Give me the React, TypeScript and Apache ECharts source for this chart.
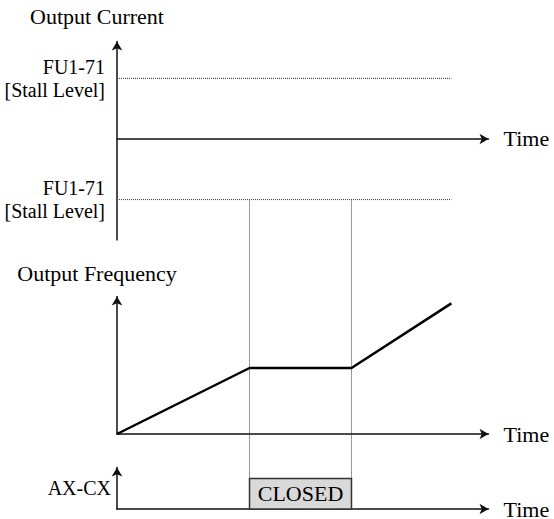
import React, { useEffect, useRef } from 'react';
import * as echarts from 'echarts';

// ---- data ----
const timeMax = 10;
const stallStart = 3.567;
const stallEnd = 6.312;
const guideEnd = 9;
const guideTimes = [stallStart, stallEnd];
const frequencyTimes = [0, 3.567, 6.312, 9];
const frequencyValues = [0, 4.8, 4.8, 9.5];
const frequencyMax = 10;
const currentMin = -10;
const currentMax = 9.65;
const stallLevels = [6, -6];
const stallLabel = 'FU1-71\n[Stall Level]';
const relayMax = 3;
const closedLevel = 2.2;
const closedText = 'CLOSED';
const titles = ['Output Current', 'Output Frequency', 'AX-CX'];
const timeLabel = 'Time';

const FONT = 'Liberation Serif';
const AXIS_COLOR = '#111';

function makeXAxis(gridIndex: number, show: boolean, lift: number) {
  return {
    type: 'value',
    gridIndex,
    min: 0,
    max: timeMax,
    show,
    name: timeLabel,
    nameLocation: 'end',
    nameGap: 15,
    nameTextStyle: {
      fontSize: 22,
      fontFamily: FONT,
      color: '#000',
      lineHeight: 16,
      verticalAlign: 'middle',
      padding: [0, 0, lift, 0],
    },
    axisLine: {
      show: true,
      onZero: true,
      symbol: ['none', 'arrow'],
      symbolSize: [8, 9],
      lineStyle: { color: AXIS_COLOR, width: 1.5 },
    },
    axisTick: { show: false },
    axisLabel: { show: false },
    splitLine: { show: false },
  };
}

export default function App() {
  const ref = useRef<HTMLDivElement>(null);

  useEffect(() => {
    if (!ref.current) return;
    const chart = echarts.init(ref.current, null, { renderer: 'svg' });

    const yBase = {
      type: 'value',
      axisTick: { show: false },
      splitLine: { show: false },
      axisLine: {
        show: true,
        symbol: ['none', 'arrow'],
        symbolSize: [8, 9],
        lineStyle: { color: AXIS_COLOR, width: 1.5 },
      },
    };

    const dotted = { color: '#333', width: 1, type: [1, 1] };

    const option: any = {
      animation: false,
      textStyle: { fontFamily: FONT, color: '#000' },
      grid: [
        { left: 117, top: 41.5, width: 371.5, height: 198.5, outerBoundsMode: 'none' },
        { left: 117, top: 296.5, width: 371.5, height: 137.5, outerBoundsMode: 'none' },
        { left: 117, top: 467.5, width: 371.5, height: 41.5, outerBoundsMode: 'none' },
        { left: 117, top: 199.6, width: 371.5, height: 279, outerBoundsMode: 'none' },
      ],
      xAxis: [
        makeXAxis(0, true, 3),
        makeXAxis(1, true, 3),
        makeXAxis(2, true, 10),
        makeXAxis(3, false, 0),
      ],
      yAxis: [
        {
          ...yBase,
          gridIndex: 0,
          min: currentMin,
          max: currentMax,
          name: titles[0],
          nameLocation: 'end',
          nameGap: 14,
          nameTextStyle: { fontSize: 22, fontFamily: FONT, color: '#000', padding: [0, 40, 0, 0] },
          axisLabel: {
            show: true,
            customValues: stallLevels,
            formatter: () => stallLabel,
            fontSize: 20,
            lineHeight: 23,
            fontFamily: FONT,
            color: '#000',
            align: 'right',
            margin: 12,
            padding: [6, 0, 0, 0],
          },
        },
        {
          ...yBase,
          gridIndex: 1,
          min: 0,
          max: frequencyMax,
          name: titles[1],
          nameLocation: 'end',
          nameGap: 12,
          nameTextStyle: { fontSize: 22, fontFamily: FONT, color: '#000', padding: [0, 40, 0, 0] },
          axisLabel: { show: false },
        },
        {
          ...yBase,
          gridIndex: 2,
          min: 0,
          max: relayMax,
          name: titles[2],
          nameLocation: 'middle',
          nameRotate: 0,
          nameGap: 6,
          nameTextStyle: {
            fontSize: 20,
            fontFamily: FONT,
            color: '#000',
            align: 'right',
            verticalAlign: 'middle',
            padding: [4, 0, 0, 0],
          },
          axisLabel: { show: false },
        },
        { type: 'value', gridIndex: 3, min: 0, max: 1, show: false },
      ],
      series: [
        ...stallLevels.map((lvl) => ({
          type: 'line',
          xAxisIndex: 0,
          yAxisIndex: 0,
          silent: true,
          symbol: 'none',
          data: [
            [0, lvl],
            [guideEnd, lvl],
          ],
          lineStyle: dotted,
        })),
        ...guideTimes.map((t) => ({
          type: 'line',
          xAxisIndex: 3,
          yAxisIndex: 3,
          silent: true,
          symbol: 'none',
          data: [
            [t, 0],
            [t, 1],
          ],
          lineStyle: dotted,
        })),
        {
          type: 'line',
          xAxisIndex: 1,
          yAxisIndex: 1,
          silent: true,
          symbol: 'none',
          z: 5,
          data: frequencyTimes.map((t, i) => [t, frequencyValues[i]]),
          lineStyle: { color: '#000', width: 2.5 },
        },
        {
          type: 'custom',
          xAxisIndex: 2,
          yAxisIndex: 2,
          silent: true,
          z: 10,
          data: [[stallStart, stallEnd, closedLevel]],
          encode: { x: [0, 1], y: 2 },
          renderItem: (params: any, api: any) => {
            const p0 = api.coord([api.value(0), api.value(2)]);
            const p1 = api.coord([api.value(1), 0]);
            return {
              type: 'group',
              children: [
                {
                  type: 'rect',
                  shape: { x: p0[0], y: p0[1], width: p1[0] - p0[0], height: p1[1] - p0[1] },
                  style: { fill: '#d9d9d9', stroke: '#333', lineWidth: 1.5 },
                },
                {
                  type: 'text',
                  x: (p0[0] + p1[0]) / 2,
                  y: (p0[1] + p1[1]) / 2,
                  style: {
                    text: closedText,
                    fill: '#000',
                    fontSize: 22,
                    fontFamily: FONT,
                    align: 'center',
                    verticalAlign: 'middle',
                  },
                },
              ],
            };
          },
        },
      ],
    };

    chart.setOption(option);
    return () => chart.dispose();
  }, []);

  return (
    <div
      ref={ref}
      style={{ position: 'fixed', left: 0, top: 0, width: 554, height: 519, background: '#fff' }}
    />
  );
}
